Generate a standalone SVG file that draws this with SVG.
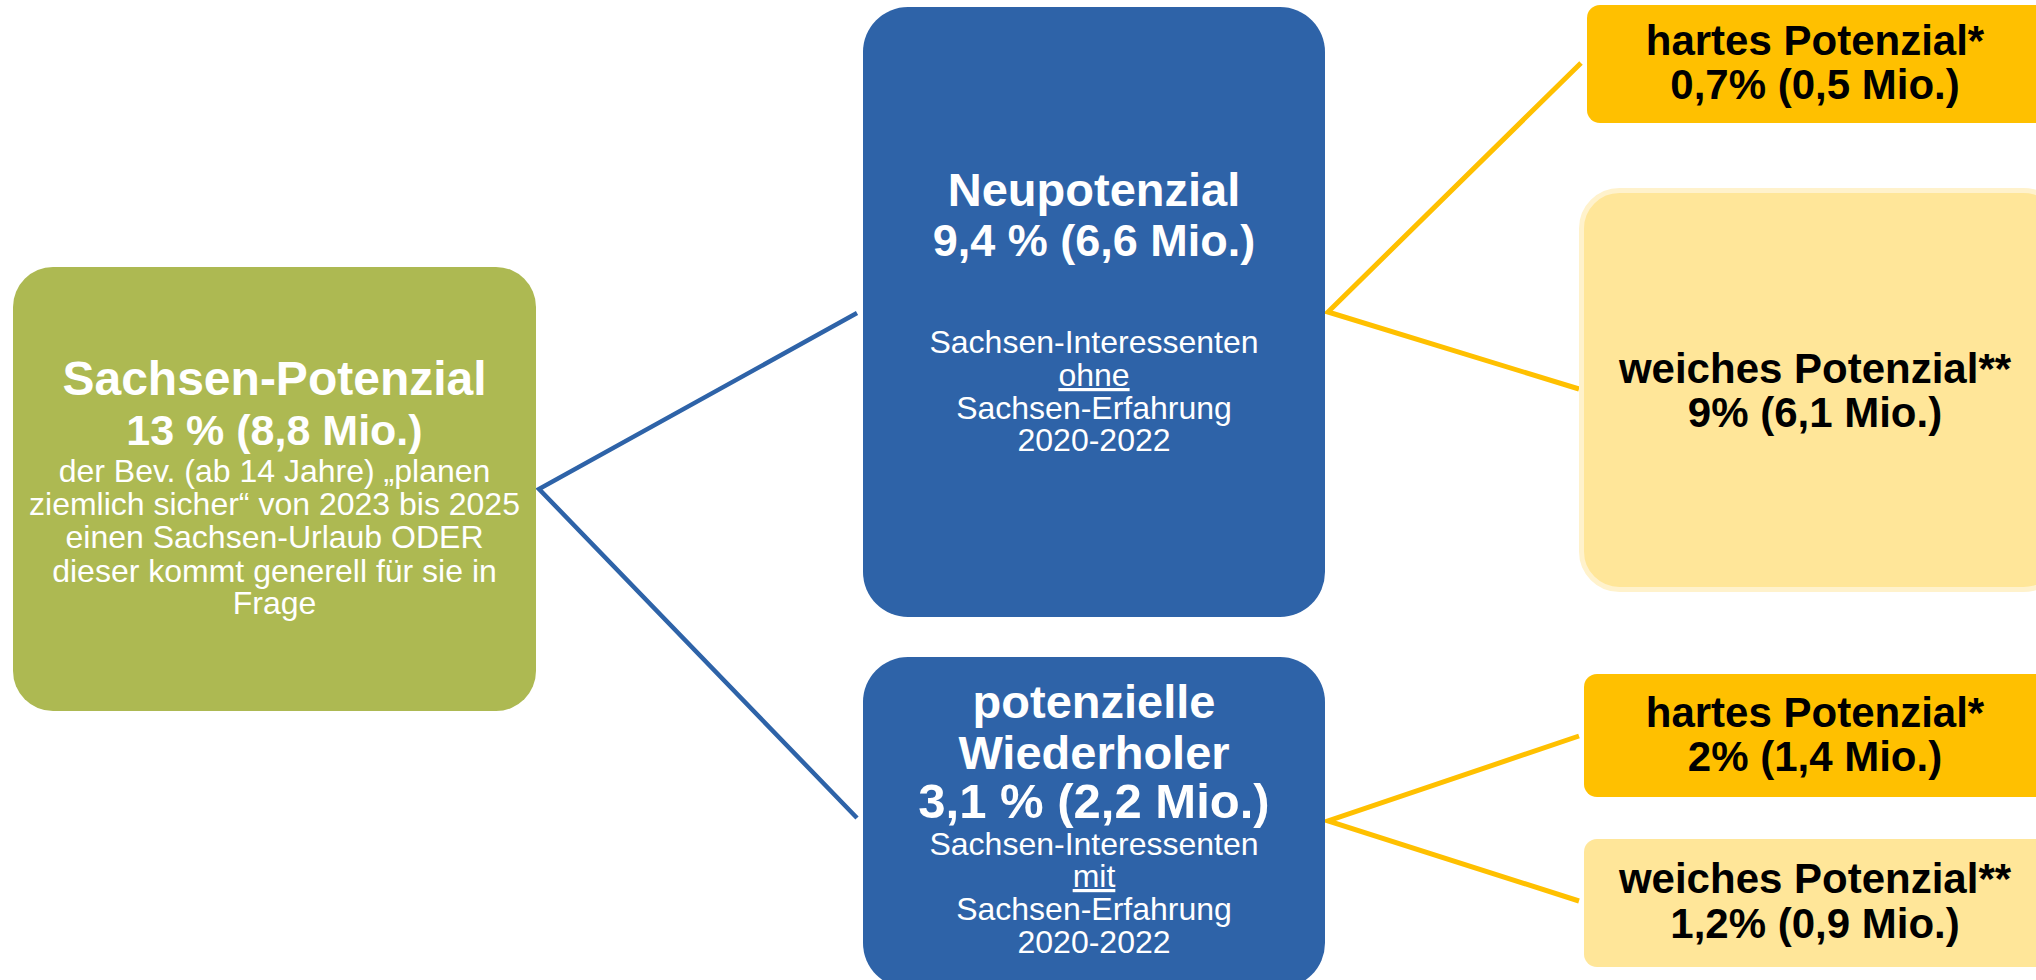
<svg xmlns="http://www.w3.org/2000/svg" width="2036" height="980" viewBox="0 0 2036 980">
<style>
text { font-family: "Liberation Sans", Arial, sans-serif; text-anchor: middle; }
.w { fill: #FFFFFF; }
.k { fill: #000000; font-weight: bold; font-size: 42px; }
.b { font-weight: bold; }
.s { font-size: 32px; }
.green { fill: #ADB952; }
.blue { fill: #2E63A8; }
.hard { fill: #FFC000; }
.soft { fill: #FFE699; }
.cb { fill: none; stroke: #2E63A8; stroke-width: 4.5; }
.cy { fill: none; stroke: #FFC000; stroke-width: 5; }
</style>
<rect width="2036" height="980" fill="#FFFFFF"/>
<g id="connectors">
  <polyline class="cb" points="857,313 539,489 857,818"/>
  <polyline class="cy" points="1581,63 1328,312 1579,389"/>
  <polyline class="cy" points="1579,736 1328,821 1579,901"/>
</g>
<g id="sachsen-potenzial">
  <rect class="green" x="13" y="267" width="523" height="444" rx="40"/>
  <text class="w b" x="274.5" y="395" font-size="48">Sachsen-Potenzial</text>
  <text class="w b" x="274.5" y="445" font-size="43">13 % (8,8 Mio.)</text>
  <text class="w s" x="274.5" y="482">der Bev. (ab 14 Jahre) „planen</text>
  <text class="w s" x="274.5" y="515">ziemlich sicher“ von 2023 bis 2025</text>
  <text class="w s" x="274.5" y="548">einen Sachsen-Urlaub ODER</text>
  <text class="w s" x="274.5" y="582">dieser kommt generell für sie in</text>
  <text class="w s" x="274.5" y="614">Frage</text>
</g>
<g id="neupotenzial">
  <rect class="blue" x="863" y="7" width="462" height="610" rx="45"/>
  <text class="w b" x="1094" y="206" font-size="47">Neupotenzial</text>
  <text class="w b" x="1094" y="256" font-size="45">9,4 % (6,6 Mio.)</text>
  <text class="w s" x="1094" y="353">Sachsen-Interessenten</text>
  <text class="w s" x="1094" y="386" text-decoration="underline">ohne</text>
  <text class="w s" x="1094" y="419">Sachsen-Erfahrung</text>
  <text class="w s" x="1094" y="451">2020-2022</text>
</g>
<g id="wiederholer">
  <rect class="blue" x="863" y="657" width="462" height="331" rx="45"/>
  <text class="w b" x="1094" y="718" font-size="47">potenzielle</text>
  <text class="w b" x="1094" y="769" font-size="47">Wiederholer</text>
  <text class="w b" x="1094" y="818" font-size="49">3,1 % (2,2 Mio.)</text>
  <text class="w s" x="1094" y="855">Sachsen-Interessenten</text>
  <text class="w s" x="1094" y="887" text-decoration="underline">mit</text>
  <text class="w s" x="1094" y="920">Sachsen-Erfahrung</text>
  <text class="w s" x="1094" y="953">2020-2022</text>
</g>
<g id="hartes-neu">
  <rect class="hard" x="1587" y="5" width="470" height="118" rx="13"/>
  <text class="k" x="1815" y="55">hartes Potenzial*</text>
  <text class="k" x="1815" y="99">0,7% (0,5 Mio.)</text>
</g>
<g id="weiches-neu">
  <rect class="soft" x="1581.5" y="190.5" width="480" height="399" rx="38" stroke="#FFF2CC" stroke-width="5"/>
  <text class="k" x="1815" y="383">weiches Potenzial**</text>
  <text class="k" x="1815" y="427">9% (6,1 Mio.)</text>
</g>
<g id="hartes-wieder">
  <rect class="hard" x="1584" y="674" width="470" height="123" rx="13"/>
  <text class="k" x="1815" y="727">hartes Potenzial*</text>
  <text class="k" x="1815" y="771">2% (1,4 Mio.)</text>
</g>
<g id="weiches-wieder">
  <rect class="soft" x="1584" y="839" width="470" height="128" rx="13"/>
  <text class="k" x="1815" y="893">weiches Potenzial**</text>
  <text class="k" x="1815" y="938">1,2% (0,9 Mio.)</text>
</g>
</svg>
